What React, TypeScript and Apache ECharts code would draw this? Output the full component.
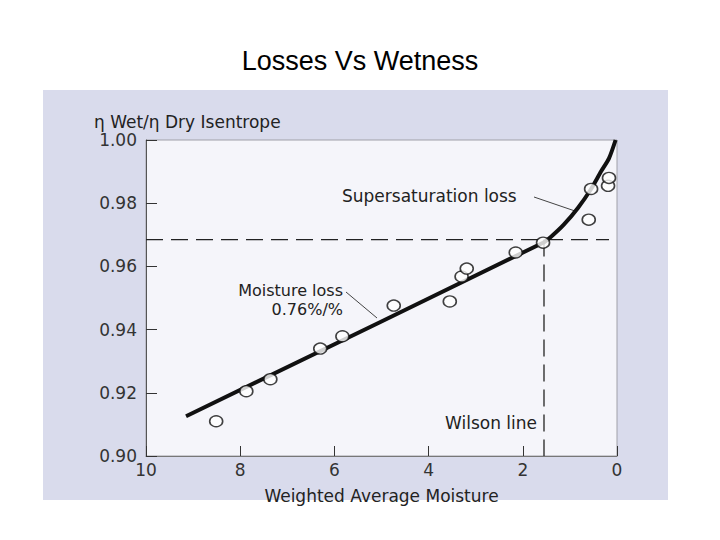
import React, { useEffect, useRef } from "react";
import * as echarts from "echarts";

// measured points (weighted average moisture %, efficiency ratio)
const moistureX = [8.51, 7.87, 7.36, 6.3, 5.83, 4.74, 3.55, 3.3, 3.19, 2.15, 1.57, 0.6, 0.55, 0.19, 0.17];
const ratioY = [0.911, 0.9205, 0.9243, 0.934, 0.9379, 0.9476, 0.9489, 0.9568, 0.9593, 0.9644, 0.9675, 0.9748, 0.9845, 0.9855, 0.988];

// fitted curve: straight moisture-loss line then supersaturation upturn
const curveX = [9.15, 1.57, 1.4, 1.13, 0.83, 0.55, 0.34, 0.17, 0.03];
const curveY = [0.9126, 0.9675, 0.9694, 0.9732, 0.9785, 0.9845, 0.99, 0.9942, 1.0];

// Wilson line reference
const wilsonX = 1.55;
const wilsonY = 0.9685;
const refLineStart = 10;
const refLineEnd = 0.17;

const xTicks = [10, 8, 6, 4, 2, 0];

const FONT = "DejaVu Sans";
const TEXT = "#222";

const App: React.FC = () => {
  const chartRef = useRef<HTMLDivElement>(null);

  useEffect(() => {
    if (!chartRef.current) return;
    const chart = echarts.init(chartRef.current, undefined, { renderer: "svg" });

    const dash = { color: "#222", width: 1.3, type: [17, 8] as number[] };

    const option: echarts.EChartsOption = {
      animation: false,
      backgroundColor: "#ffffff",
      title: {
        text: "Losses Vs Wetness",
        left: "center",
        top: 42,
        textStyle: {
          fontFamily: "Liberation Sans",
          fontSize: 27,
          fontWeight: "normal",
          color: "#000",
        },
      },
      graphic: [
        {
          type: "rect",
          z: -10,
          shape: { x: 43, y: 90, width: 625, height: 410 },
          style: { fill: "#d9dbec" },
        },
        {
          type: "text",
          left: 94,
          top: 113,
          style: { text: "η Wet/η Dry Isentrope", font: `17px "${FONT}"`, fill: TEXT },
        },
        {
          type: "text",
          x: 342,
          y: 196,
          style: {
            text: "Supersaturation loss",
            font: `17px "${FONT}"`,
            fill: TEXT,
            textVerticalAlign: "middle",
          },
        },
        {
          type: "line",
          shape: { x1: 534, y1: 197, x2: 575, y2: 211 },
          style: { stroke: "#444", lineWidth: 1 },
        },
        {
          type: "text",
          x: 343,
          y: 290,
          style: {
            text: "Moisture loss",
            font: `16px "${FONT}"`,
            fill: TEXT,
            textAlign: "right",
            textVerticalAlign: "middle",
          },
        },
        {
          type: "text",
          x: 343,
          y: 309,
          style: {
            text: "0.76%/%",
            font: `16px "${FONT}"`,
            fill: TEXT,
            textAlign: "right",
            textVerticalAlign: "middle",
          },
        },
        {
          type: "line",
          shape: { x1: 346, y1: 292, x2: 377, y2: 318 },
          style: { stroke: "#444", lineWidth: 1 },
        },
        {
          type: "text",
          x: 537,
          y: 423,
          style: {
            text: "Wilson line",
            font: `17px "${FONT}"`,
            fill: TEXT,
            textAlign: "right",
            textVerticalAlign: "middle",
          },
        },
      ],
      grid: {
        left: 146,
        right: 103,
        top: 140,
        bottom: 84,
        show: true,
        backgroundColor: "#f5f5fa",
        borderColor: "#a0a0a8",
        borderWidth: 1,
      },
      xAxis: {
        type: "value",
        inverse: true,
        min: 0,
        max: 10,
        interval: 2,
        name: "Weighted Average Moisture",
        nameLocation: "middle",
        nameGap: 31,
        nameTextStyle: { fontFamily: FONT, fontSize: 17, color: TEXT },
        axisLine: { show: true, onZero: false, lineStyle: { color: "#777", width: 1 } },
        axisTick: { show: true, inside: true, length: 10, lineStyle: { color: "#333" } },
        axisLabel: {
          fontFamily: FONT,
          fontSize: 17,
          color: "#333",
          margin: 5,
          formatter: (v: number) => (xTicks.includes(v) ? String(v) : ""),
        },
        splitLine: { show: false },
      },
      yAxis: {
        type: "value",
        position: "left",
        min: 0.9,
        max: 1.0,
        interval: 0.02,
        axisLine: { show: true, onZero: false, lineStyle: { color: "#555", width: 1 } },
        axisTick: { show: true, inside: true, length: 11, lineStyle: { color: "#333" } },
        axisLabel: {
          fontFamily: FONT,
          fontSize: 17,
          color: "#333",
          margin: 9,
          formatter: (v: number) => v.toFixed(2),
        },
        splitLine: { show: false },
      },
      series: [
        {
          type: "line",
          name: "Reference",
          data: [
            [refLineStart, wilsonY],
            [refLineEnd, wilsonY],
          ],
          symbol: "none",
          lineStyle: dash,
          z: 1,
        },
        {
          type: "line",
          name: "Wilson line",
          data: [
            [wilsonX, wilsonY],
            [wilsonX, 0.9],
          ],
          symbol: "none",
          lineStyle: dash,
          z: 1,
        },
        {
          type: "line",
          name: "Fit",
          data: curveX.map((x, i) => [x, curveY[i]]),
          symbol: "none",
          smooth: 0.25,
          lineStyle: { color: "#111", width: 4 },
          z: 2,
        },
        {
          type: "scatter",
          name: "Measured",
          data: moistureX.map((x, i) => [x, ratioY[i]]),
          symbol: "circle",
          symbolSize: [13, 11],
          itemStyle: { color: "#ffffff", borderColor: "#111", borderWidth: 1.5 },
          z: 3,
        },
      ],
    };

    chart.setOption(option);
    return () => chart.dispose();
  }, []);

  return (
    <div
      ref={chartRef}
      style={{ position: "fixed", left: 0, top: 0, width: 720, height: 540 }}
    />
  );
};

export default App;
